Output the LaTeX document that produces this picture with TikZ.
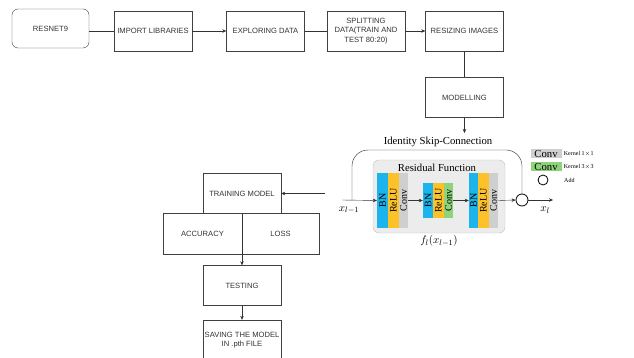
\documentclass[tikz,border=0pt]{standalone}
\usepackage{fontspec}
\setmainfont{Liberation Sans}
\newfontfamily\timesfont{Liberation Serif}
\usepackage{graphicx}
\usetikzlibrary{arrows.meta}
\definecolor{bnblue}{HTML}{1CB4EC}
\definecolor{reluyellow}{HTML}{FDC12A}
\definecolor{convgray}{HTML}{CFCFCF}
\definecolor{convgreen}{HTML}{8ED27A}
\definecolor{panelgray}{HTML}{ECECEC}
\newcommand{\striplabel}[1]{\rotatebox{90}{#1}}
\tikzset{
  stepbox/.style={draw=black!75, minimum width=78, minimum height=40, align=center,
    inner sep=1, text=black!80, font=\fontsize{7.6}{9.5}\selectfont},
  strip/.style={inner sep=0, font=\timesfont\fontsize{10}{10}\selectfont},
  flow/.style={-{Stealth[length=4pt,width=3.5pt]}, black!80},
  serif/.style={font=\timesfont\fontsize{10.7}{12}\selectfont},
}
\begin{document}
\begin{tikzpicture}[x=1pt,y=-1pt]
\useasboundingbox (0,0) rectangle (634,358);
% Ablauf oben
\node[stepbox, rounded corners=6, minimum width=77, minimum height=39] (resnet) at (50.5,28.5) {RESNET9};
\node[stepbox] (import) at (153,31) {IMPORT LIBRARIES};
\node[stepbox] (explore) at (265.5,31) {EXPLORING DATA};
\node[stepbox] (split) at (366,31) {SPLITTING\\DATA(TRAIN AND\\TEST 80:20)};
\node[stepbox] (resize) at (464.5,31) {RESIZING IMAGES};
\node[stepbox] (modelling) at (464.5,97.5) {MODELLING};
\coordinate (modout) at (464.5,133);
\draw[black!80] (resnet.east |- import.west) -- (import.west);
\draw[flow] (import) -- (explore);
\draw[black!80] (explore) -- (split);
\draw[flow] (split) -- (resize);
\draw[black!80] (resize) -- (modelling);
\draw[flow] (modelling) -- (modout);
% Residual-Block
\node[draw=black!25, fill=panelgray, rounded corners=6, minimum width=132, minimum height=73] (panel) at (439,196.5) {};
\node[serif] (restitle) at (437,167.5) {Residual Function};
\node[serif] (skiplabel) at (438,142) {Identity Skip-Connection};
% Block 1
\node[strip, fill=bnblue, minimum width=11, minimum height=55] (bn1) at (382.5,200.5) {\striplabel{BN}};
\node[strip, fill=reluyellow, minimum width=11, minimum height=55] (relu1) at (393.5,200.5) {\striplabel{ReLU}};
\node[strip, fill=convgray, minimum width=9, minimum height=55] (conv1) at (403.5,200.5) {\striplabel{Conv}};
% Block 2
\node[strip, fill=bnblue, minimum width=10, minimum height=35] (bn2) at (428,200.5) {\striplabel{BN}};
\node[strip, fill=reluyellow, minimum width=11, minimum height=35] (relu2) at (438.5,200.5) {\striplabel{ReLU}};
\node[strip, fill=convgreen, minimum width=9, minimum height=35] (conv2) at (448.5,200.5) {\striplabel{Conv}};
% Block 3
\node[strip, fill=bnblue, minimum width=9, minimum height=55] (bn3) at (473.5,200.5) {\striplabel{BN}};
\node[strip, fill=reluyellow, minimum width=11, minimum height=55] (relu3) at (483.5,200.5) {\striplabel{ReLU}};
\node[strip, fill=convgray, minimum width=9, minimum height=55] (conv3) at (493.5,200.5) {\striplabel{Conv}};
% Eingang, Ausgang, Addition
\node[draw, thick, circle, minimum size=12, inner sep=0] (add) at (522,200) {};
\coordinate (xin) at (342,200);
\coordinate (branch) at (352,200);
\coordinate (skiptop) at (440,150);
\coordinate (xout) at (553,200);
\node[font=\fontsize{11}{11}\selectfont] (xinlabel) at (349,210) {$x_{l-1}$};
\node[font=\fontsize{11}{11}\selectfont] (xoutlabel) at (545,210) {$x_l$};
\node[font=\fontsize{11}{11}\selectfont] (flabel) at (439,241) {$f_l(x_{l-1})$};
\draw[flow] (xin) -- (bn1.west);
\draw[flow] (conv1.east) -- (bn2.west);
\draw[flow] (conv2.east) -- (bn3.west);
\draw[flow] (conv3.east) -- (add.west);
\draw[flow] (add.east) -- (xout);
\draw[black!85, rounded corners=16] (branch) |- (skiptop) -| (add.north);
% Legende
\node[fill=convgray, minimum width=31, minimum height=9, inner sep=0, serif] (leg1) at (546,154) {Conv};
\node[fill=convgreen, minimum width=31, minimum height=9, inner sep=0, serif] (leg2) at (546,167) {Conv};
\node[draw, thick, circle, minimum size=10, inner sep=0] (leg3) at (543,180) {};
\node[anchor=west, inner sep=2, font=\timesfont\fontsize{6}{6}\selectfont] at (leg1.east) {Kernel 1$\times$1};
\node[anchor=west, inner sep=2, font=\timesfont\fontsize{6}{6}\selectfont] at (leg2.east) {Kernel 3$\times$3};
\node[anchor=west, inner sep=2, font=\timesfont\fontsize{6}{6}\selectfont] at (562,180) {Add};
% Ablauf links
\node[stepbox] (training) at (242,193.5) {TRAINING MODEL};
\node[stepbox, minimum width=79, minimum height=41] (accuracy) at (202.5,233.5) {ACCURACY};
\node[stepbox, minimum width=77, minimum height=41] (loss) at (280.5,233.5) {LOSS};
\node[stepbox] (testing) at (242,285.5) {TESTING};
\node[stepbox] (saving) at (242,340) {SAVING THE MODEL\\IN .pth FILE};
\coordinate (fromres) at (325,193.5);
\draw[flow] (fromres) -- (training.east);
\draw[flow] (training) -- (testing);
\draw[flow] (testing) -- (saving);
\end{tikzpicture}
\end{document}
